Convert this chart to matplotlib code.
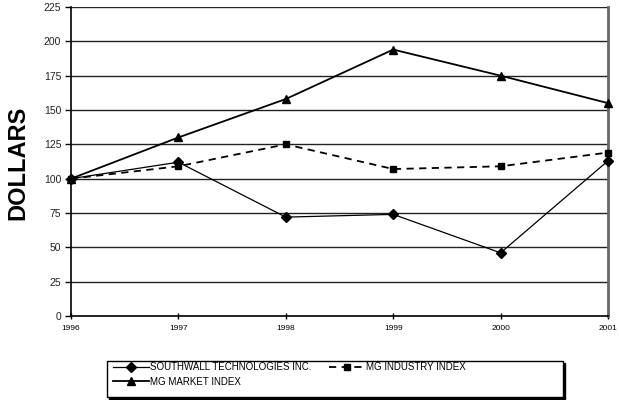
import matplotlib
matplotlib.use("Agg")
import matplotlib.pyplot as plt
from matplotlib.patches import Rectangle

plt.rcParams['font.family'] = ['Liberation Sans', 'DejaVu Sans']

years = [1996, 1997, 1998, 1999, 2000, 2001]
southwall = [100, 112, 72, 74, 46, 113]
industry = [100, 109, 125, 107, 109, 119]
market = [100, 130, 158, 194, 175, 155]
yticks = [0, 25, 50, 75, 100, 125, 150, 175, 200, 225]

fig = plt.figure(figsize=(6.19, 4.0), dpi=100)
ax = fig.add_axes([71/619, 1-316/400, (608-71)/619, (316-7)/400])

for y in yticks[1:]:
    ax.axhline(y, color='#222222', lw=1.0, zorder=1)

l1, = ax.plot(years, southwall, color='black', lw=0.9, marker='D', ms=5,
              label='SOUTHWALL TECHNOLOGIES INC.', zorder=3, clip_on=False)
l2, = ax.plot(years, industry, color='black', lw=1.3, ls=(0, (4, 3)), marker='s', ms=4.5,
              label='MG INDUSTRY INDEX', zorder=3, clip_on=False)
l3, = ax.plot(years, market, color='black', lw=1.3, marker='^', ms=5.5,
              label='MG MARKET INDEX', zorder=3, clip_on=False)

ax.set_xlim(1996, 2001)
ax.set_ylim(0, 225)
ax.set_yticks(yticks)
ax.set_xticks(years)
ax.set_xticklabels([str(y) for y in years], fontsize=6)
ax.set_yticklabels([str(y) for y in yticks], fontsize=7.5, color='#222222')
ax.tick_params(axis='y', direction='out', length=4, width=1, pad=3)
ax.tick_params(axis='x', direction='inout', length=5, width=1, pad=4)
ax.spines['top'].set_visible(False)
ax.spines['left'].set_linewidth(1.2)
ax.spines['bottom'].set_linewidth(1.2)
ax.spines['right'].set_color('#666666')
ax.spines['right'].set_linewidth(2)

fig.text(18/619, 1-163/400, 'DOLLARS', rotation=90, fontsize=17, fontweight='bold',
         ha='center', va='center')

# legend box with shadow
lx0, ly0, lx1, ly1 = 107/619, 1-397/400, 563/619, 1-361/400
fig.patches.append(Rectangle((lx0+2/619, ly0-2/400), lx1-lx0, ly1-ly0,
                             transform=fig.transFigure, facecolor='black', edgecolor='black', zorder=0))
fig.patches.append(Rectangle((lx0, ly0), lx1-lx0, ly1-ly0,
                             transform=fig.transFigure, facecolor='white', edgecolor='black', lw=1, zorder=1))
leg = fig.legend(handles=[l1, l3, l2], loc='upper left', bbox_to_anchor=(lx0 + 3/619, ly1+0.004),
                 ncol=2, frameon=False, fontsize=7, handlelength=3.7, handletextpad=0.1,
                 columnspacing=1.8, labelspacing=0.45, borderaxespad=0, borderpad=0.3)

fig.savefig('out.png', dpi=100)
